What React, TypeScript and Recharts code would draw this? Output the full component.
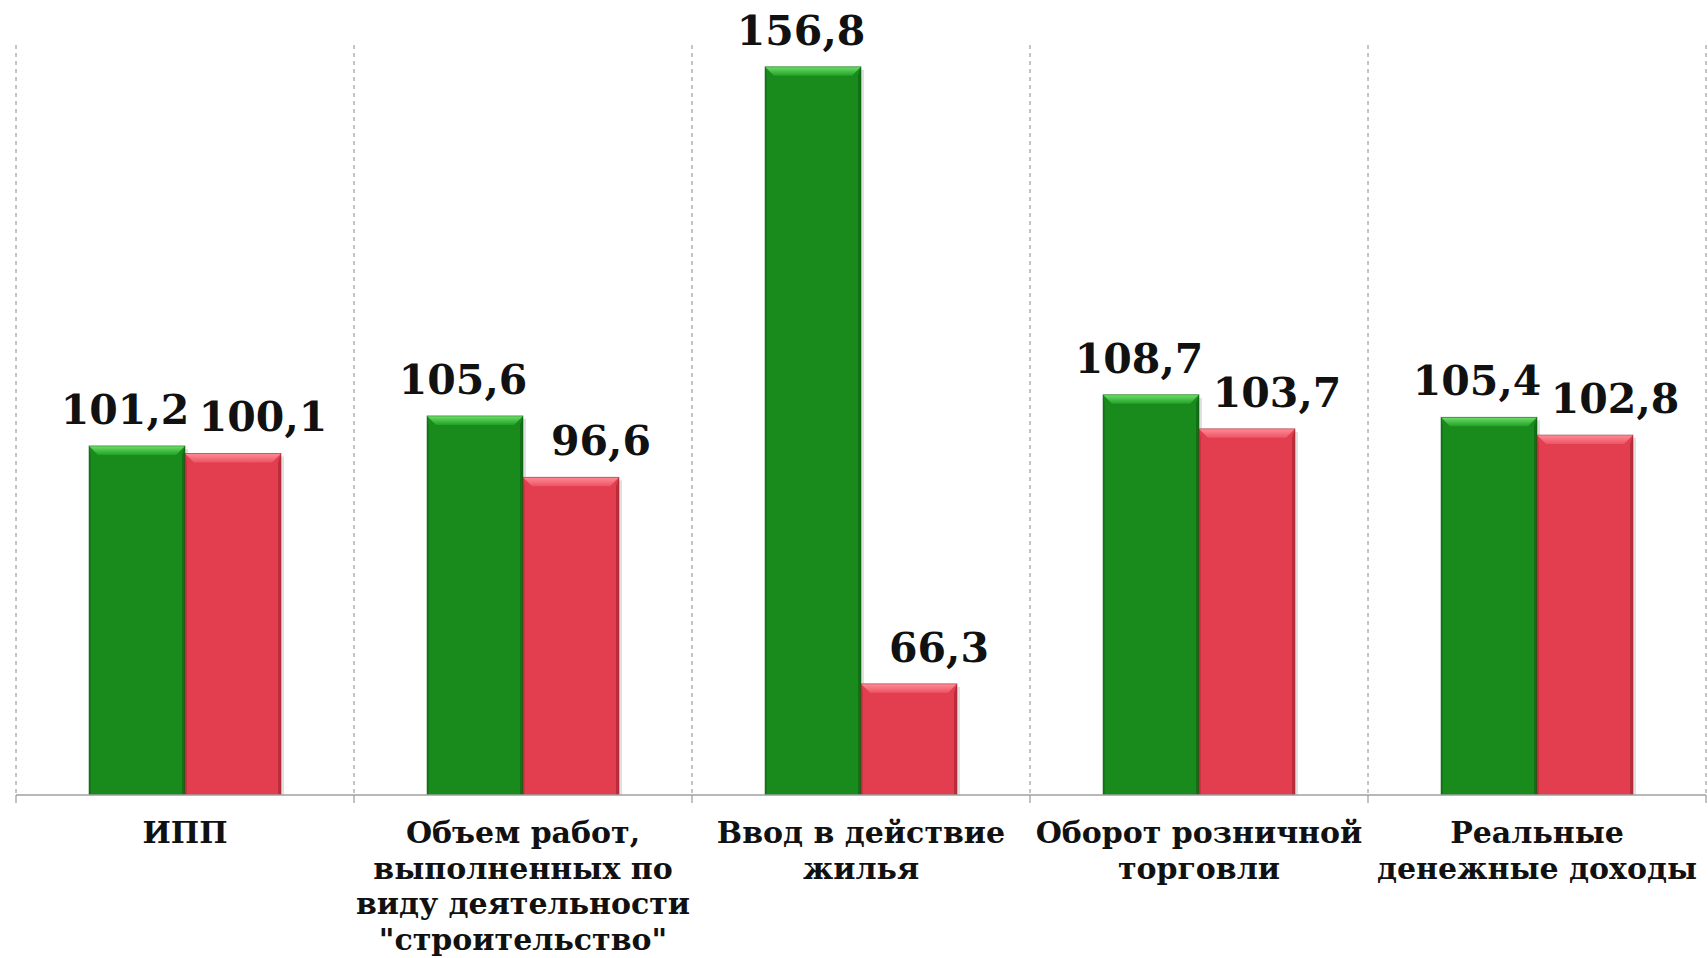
import React from "react";
import { BarChart, Bar, XAxis, YAxis, CartesianGrid, LabelList } from "recharts";

const categories = [
  "ИПП",
  "Объем работ,\nвыполненных по\nвиду деятельности\n\"строительство\"",
  "Ввод в действие\nжилья",
  "Оборот розничной\nторговли",
  "Реальные\nденежные доходы",
];
const greenValues = [101.2, 105.6, 156.8, 108.7, 105.4];
const redValues = [100.1, 96.6, 66.3, 103.7, 102.8];

const data = categories.map((c, i) => ({ name: c, g: greenValues[i], r: redValues[i] }));

const W = 1708;
const H = 958;
const M = { top: 45, right: 2, left: 16, bottom: 0 };
const PLOT_W = W - M.left - M.right;
const BAND = PLOT_W / categories.length;

const fmt = (v: number) => v.toFixed(1).replace(".", ",");

function makeBar(base: string, light: string, dark: string, id: string) {
  return (p: any) => {
    const { x, y, width: w, height: h } = p;
    if (!h || h <= 0) return <g />;
    const b = 9;
    return (
      <g>
        <rect x={x + 3} y={y + 3} width={w} height={h - 3} fill="rgba(0,0,0,0.12)" />
        <rect x={x} y={y} width={w} height={h} fill={base} />
        <polygon
          points={`${x},${y} ${x + w},${y} ${x + w - b},${y + b} ${x + b},${y + b}`}
          fill={`url(#${id})`}
        />
        <polygon
          points={`${x + w},${y} ${x + w},${y + h} ${x + w - 3},${y + h} ${x + w - 3},${y + b}`}
          fill={dark}
          opacity={0.55}
        />
        <polygon
          points={`${x},${y} ${x + 2},${y + b} ${x + 2},${y + h} ${x},${y + h}`}
          fill={dark}
          opacity={0.35}
        />
        <rect x={x} y={y} width={w} height={h} fill="none" stroke={dark} strokeWidth={0.8} opacity={0.6} />
      </g>
    );
  };
}

const makeLabel = (dx: number) => (p: any) => {
  const { x, y, width, value } = p;
  return (
    <text
      x={x + width / 2 + dx}
      y={y - 22}
      textAnchor="middle"
      fontFamily="'DejaVu Serif', serif"
      fontWeight="bold"
      fontSize={41}
      fill="#111"
    >
      {fmt(value)}
    </text>
  );
};

const CategoryTick = (p: any) => {
  const { x, y, payload, index } = p;
  const lines = String(payload.value).split("\n");
  const left = x - BAND / 2;
  const right = x + BAND / 2;
  return (
    <g>
      <line x1={left} y1={y} x2={left} y2={y + 8} stroke="#999" strokeWidth={1.2} />
      {index === categories.length - 1 && (
        <line x1={right} y1={y} x2={right} y2={y + 8} stroke="#999" strokeWidth={1.2} />
      )}
      {lines.map((ln, i) => (
        <text
          key={i}
          x={x}
          y={y + 48 + i * 35.5}
          textAnchor="middle"
          fontFamily="'DejaVu Serif', serif"
          fontWeight="bold"
          fontSize={30}
          fill="#111"
        >
          {ln}
        </text>
      ))}
    </g>
  );
};

export default function App() {
  return (
    <div style={{ width: W, height: H, background: "#fff" }}>
      <style>{`body{margin:0;}`}</style>
      <BarChart width={W} height={H} data={data} margin={M} barGap={0}>
        <defs>
          <linearGradient id="gTop" x1="0" y1="0" x2="0" y2="1">
            <stop offset="0%" stopColor="#6ee06a" />
            <stop offset="100%" stopColor="#22a126" />
          </linearGradient>
          <linearGradient id="rTop" x1="0" y1="0" x2="0" y2="1">
            <stop offset="0%" stopColor="#ff8c97" />
            <stop offset="100%" stopColor="#ec5463" />
          </linearGradient>
        </defs>
        <CartesianGrid
          horizontal={false}
          stroke="#8a8a8a"
          strokeDasharray="4 4"
          verticalCoordinatesGenerator={(args: any) => {
            const off = args && args.offset ? args.offset : { left: M.left, width: PLOT_W };
            const n = categories.length;
            const res: number[] = [];
            for (let i = 0; i <= n; i++) res.push(off.left + (i * off.width) / n);
            return res;
          }}
        />
        <XAxis
          dataKey="name"
          height={H - M.top - 750}
          axisLine={{ stroke: "#a0a0a0", strokeWidth: 1.5 }}
          tickLine={false}
          tickSize={0}
          tickMargin={0}
          interval={0}
          tick={<CategoryTick />}
        />
        <YAxis hide domain={[50, 160]} allowDataOverflow />
        <Bar dataKey="g" name="Зеленый" barSize={96} fill="#198b1d" isAnimationActive={false}
          shape={makeBar("#198b1d", "#6ee06a", "#0b5a0e", "gTop")}>
          <LabelList dataKey="g" content={makeLabel(-12)} />
        </Bar>
        <Bar dataKey="r" name="Красный" barSize={96} fill="#e33e50" isAnimationActive={false}
          shape={makeBar("#e33e50", "#ff8c97", "#9c1f2c", "rTop")}>
          <LabelList dataKey="r" content={makeLabel(30)} />
        </Bar>
      </BarChart>
    </div>
  );
}
